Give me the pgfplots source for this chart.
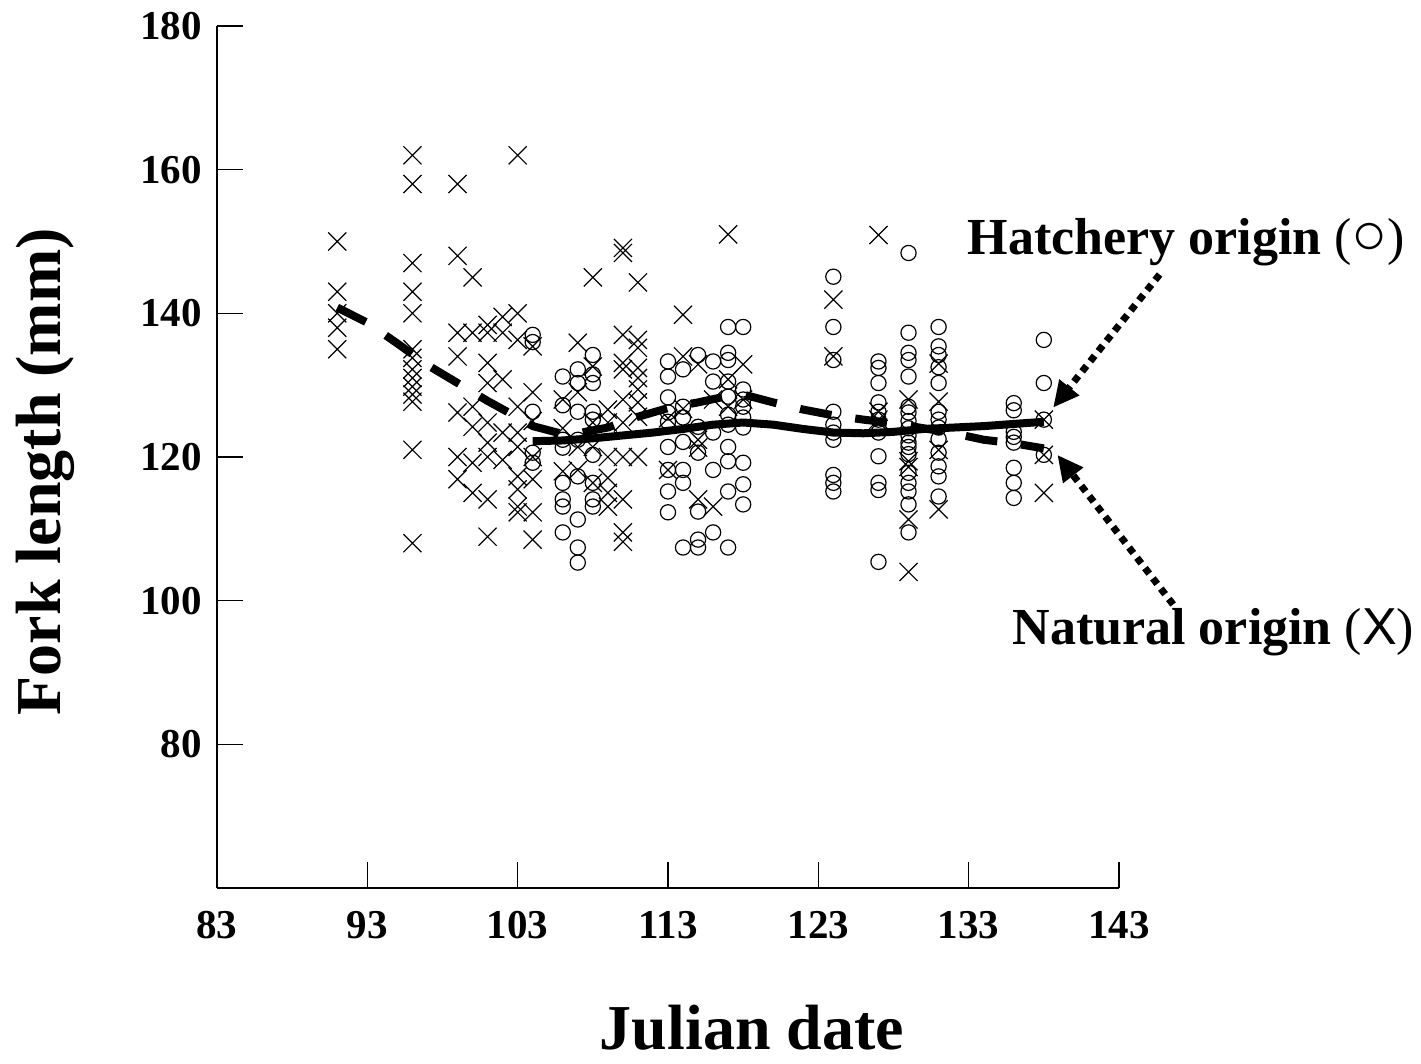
\documentclass[border=0pt]{standalone}
\usepackage{fontspec}
\setmainfont{Liberation Serif}
\setsansfont{Liberation Sans}
\usepackage{pgfplots}
\pgfplotsset{compat=1.18}
\usetikzlibrary{arrows.meta}

\pgfplotstableread{
x y
91 150
91 143
91 140
91 138
91 135
96 162
96 158
96 147
96 143
96 140
96 135
96 133.8
96 132.2
96 131
96 129.8
96 128.7
96 127.7
96 121
96 108
99 158
99 148
99 137.3
99 134
99 126.2
99 120
99 116.9
100 145
100 137.3
100 127
100 124.2
100 119.2
100 115
101 138.4
101 137.3
101 133.1
101 130.3
101 124.8
101 122
101 120
101 114.1
101 108.9
102 139.5
102 137.3
102 130.8
102 123.4
102 119.6
103 162
103 140
103 136.3
103 127
103 123.4
103 121.4
103 117.3
103 115.5
103 113.1
103 112.3
104 135.4
104 129
104 125
104 120
104 116.9
104 112.3
104 108.5
106 128
106 124
106 118
107 135.9
107 129
107 121.4
107 118.2
108 145
108 132.6
108 124.8
108 121.4
108 116.4
109 126.6
109 124.8
109 120
109 117.1
109 115
109 113.1
110 149.1
110 148.4
110 137
110 133.1
110 132.2
110 128
110 124.8
110 120
110 114.1
110 109.5
110 108.2
111 144.3
111 136.3
111 135.2
111 132.4
111 131
111 129.4
111 127.6
111 125.6
111 120
113 125.4
113 118.2
114 139.8
114 134
114 126.7
115 132.9
115 122.4
115 121.3
115 114.1
116 128
116 113.1
117 151
117 130.8
117 127
118 132.9
118 128
124 141.9
124 134
127 150.9
127 126.3
127 125.2
129 128
129 119.4
129 118.6
129 111.3
129 104
131 133
131 127.7
131 121
131 112.7
138 125.2
138 120.3
138 115
}\natural

\pgfplotstableread{
x y
104 137
104 136
104 126.3
104 120.6
104 119.2
106 131.2
106 127.2
106 122.4
106 121.3
106 116.4
106 114.1
106 113.1
106 109.5
107 132.2
107 130.3
107 126.3
107 122.4
107 117.3
107 111.3
107 107.4
107 105.3
108 134.2
108 131.5
108 130.3
108 126.3
108 125.2
108 120.3
108 116.4
108 114.1
108 113.1
113 133.3
113 131.2
113 128.3
113 126.2
113 124.9
113 121.4
113 118.2
113 115.2
113 112.3
114 132.2
114 127
114 125.5
114 122.1
114 118.2
114 116.4
114 107.4
115 134.2
115 124.2
115 120.6
115 112.4
115 108.5
115 107.4
116 133.3
116 130.5
116 123.4
116 118.2
116 109.5
117 138.1
117 134.5
117 133.5
117 130.5
117 128.4
117 125.9
117 124.5
117 121.4
117 119.4
117 115.2
117 107.4
118 138.1
118 129.4
118 128
118 127
118 125.5
118 124.1
118 119.2
118 116.2
118 113.4
124 145.1
124 138.1
124 133.5
124 126.3
124 124.5
124 123.4
124 122.4
124 117.5
124 116.4
124 115.2
127 133.3
127 132.4
127 130.3
127 127.6
127 126.3
127 125.2
127 123.4
127 120.1
127 116.4
127 115.4
127 105.4
129 148.4
129 137.3
129 134.5
129 133.5
129 131.2
129 127
129 126.2
129 125
129 124
129 123
129 122
129 121.4
129 120.4
129 117.8
129 116.4
129 115.2
129 113.4
129 109.5
131 138.1
131 135.4
131 134.2
131 132.5
131 130.3
131 126.3
131 125.2
131 124.1
131 122.5
131 120.6
131 118.7
131 117.3
131 114.5
136 127.5
136 126.5
136 123.5
136 122.8
136 122
136 118.5
136 116.4
136 114.3
138 136.3
138 130.3
138 125.2
138 120.3
}\hatchery

\pgfplotstableread{
x y
91 140.8
93 138.7
95 135.8
97 132.8
99 130.3
101 127.8
103 125.5
104 124.3
106 123.2
107 123.3
109 124.1
111 125.6
113 126.8
115 127.6
117 128.5
118 128.7
120 127.6
122 126.6
124 125.8
126 125.2
128 124.7
130 124.0
132 123.3
134 122.4
136 121.9
138 121.2
}\natfit

\pgfplotstableread{
x y
104 122.2
106 122.3
108 122.6
110 123.0
112 123.4
114 123.9
116 124.5
118 124.8
120 124.5
122 123.9
124 123.4
126 123.3
128 123.5
130 123.9
132 124.1
134 124.3
136 124.6
138 124.9
}\hatfit

\begin{document}
\begin{tikzpicture}
\useasboundingbox (-108.5pt,-88pt) rectangle (602pt,444pt);
\begin{axis}[
  at={(0,0)}, anchor=south west,
  scale only axis, width=451pt, height=431pt,
  xmin=83, xmax=143, ymin=60, ymax=180,
  axis lines=left,
  axis line style={-, line width=0.75pt},
  xtick={83,93,...,143}, ytick={80,100,...,180},
  tick align=inside, major tick length=13pt,
  tick style={line width=0.75pt, black},
  /pgf/number format/assume math mode=true,
  ticklabel style={font=\fontsize{20.5}{24}\selectfont\bfseries},
  xticklabel style={yshift=-8pt},
  yticklabel style={xshift=-4pt},
  clip=false,
  xlabel={Julian date},
  ylabel={Fork length (mm)},
  label style={font=\fontsize{32}{38}\selectfont\bfseries},
  xlabel style={at={([yshift=-70pt]axis description cs:0.593,0)}, anchor=center},
  ylabel style={at={([xshift=-86pt]axis description cs:0,0.483)}, anchor=center},
]
\addplot[only marks, mark=x, mark size=6.4pt, mark options={line width=0.6pt, black}] table {\natural};
\addplot[only marks, mark=o, mark size=3.8pt, mark options={line width=0.6pt, black}] table {\hatchery};
\addplot[black, line width=4pt, dash pattern=on 16pt off 12pt] table {\natfit};
\addplot[black, line width=4pt] table {\hatfit};

\node[anchor=base west, inner sep=0, font=\fontsize{26}{30}\selectfont\bfseries] at (axis cs:132.9,148.15)
  {Hatchery origin {\mdseries(\textsf{\fontsize{30}{30}\selectfont ○})}};
\node[anchor=base west, inner sep=0, font=\fontsize{26}{30}\selectfont\bfseries] at (axis cs:135.9,93.9)
  {Natural origin {\mdseries(\textsf{X})}};
\draw[black, line width=3.5pt, dash pattern=on 3.5pt off 3pt, -{Triangle[length=13pt,width=12pt]}]
  (axis cs:145.7,145.4) -- (axis cs:138.62,126.87);
\draw[black, line width=3.5pt, dash pattern=on 3.5pt off 3pt, -{Triangle[length=13pt,width=12pt]}]
  (axis cs:146.6,99.47) -- (axis cs:138.9,120.3);
\end{axis}
\end{tikzpicture}
\end{document}
